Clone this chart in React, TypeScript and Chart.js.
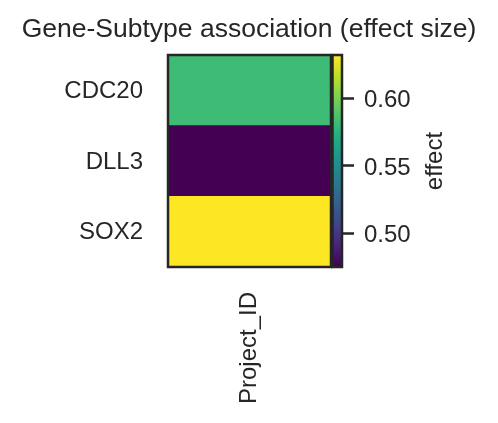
import React, { useEffect, useRef } from "react";
import { Chart, registerables } from "chart.js";

Chart.register(...registerables);

// Heatmap content
const genes = ["CDC20", "DLL3", "SOX2"];
const columns = ["Project_ID"];
const effect = [0.582, 0.475, 0.632];

// Colorbar
const colorbarTicks = [0.5, 0.55, 0.6];
const colorbarLabel = "effect";
const titleText = "Gene-Subtype association (effect size)";

const INK = "#262626";
const FONT = '"Liberation Sans", Arial, Helvetica, sans-serif';

const VIRIDIS = [
  "#440154", "#482475", "#414487", "#355f8d", "#2a788e", "#21918c",
  "#22a884", "#44bf70", "#7ad151", "#bddf26", "#fde725",
];

function hexToRgb(h: string): number[] {
  return [1, 3, 5].map((i) => parseInt(h.slice(i, i + 2), 16));
}

function viridis(t: number): string {
  const c = Math.min(1, Math.max(0, t)) * (VIRIDIS.length - 1);
  const i = Math.min(VIRIDIS.length - 2, Math.floor(c));
  const f = c - i;
  const a = hexToRgb(VIRIDIS[i]);
  const b = hexToRgb(VIRIDIS[i + 1]);
  const m = a.map((v, k) => Math.round(v + (b[k] - v) * f));
  return `rgb(${m[0]}, ${m[1]}, ${m[2]})`;
}

const vmin = Math.min(...effect);
const vmax = Math.max(...effect);

// Dark outline around the plotting area
const framePlugin = {
  id: "frame",
  afterDatasetsDraw(chart: any) {
    const { ctx, chartArea } = chart;
    ctx.save();
    ctx.strokeStyle = INK;
    ctx.lineWidth = 2.5;
    ctx.strokeRect(
      chartArea.left,
      chartArea.top,
      chartArea.right - chartArea.left,
      chartArea.bottom - chartArea.top
    );
    ctx.restore();
  },
};

// Colorbar caption, reading bottom to top
const captionPlugin = {
  id: "caption",
  afterDraw(chart: any) {
    const { ctx, chartArea } = chart;
    ctx.save();
    ctx.translate(442, (chartArea.top + chartArea.bottom) / 2);
    ctx.rotate(-Math.PI / 2);
    ctx.fillStyle = INK;
    ctx.font = `24px ${FONT}`;
    ctx.textAlign = "center";
    ctx.textBaseline = "alphabetic";
    ctx.fillText(colorbarLabel, 0, 0);
    ctx.restore();
  },
};

export default function App() {
  const heatRef = useRef<HTMLCanvasElement>(null);
  const barRef = useRef<HTMLCanvasElement>(null);

  useEffect(() => {
    const tickFont = { family: FONT, size: 24 };

    const heat = new Chart(heatRef.current!, {
      type: "bar",
      data: {
        labels: genes,
        datasets: [
          {
            data: genes.map(() => [-0.5, columns.length - 0.5]),
            backgroundColor: effect.map((v) => viridis((v - vmin) / (vmax - vmin))),
            borderWidth: 0,
            barPercentage: 1,
            categoryPercentage: 1,
          } as any,
        ],
      },
      options: {
        indexAxis: "y",
        responsive: false,
        animation: false,
        layout: { padding: 0 },
        plugins: {
          legend: { display: false },
          tooltip: { enabled: false },
          title: {
            display: true,
            text: titleText,
            color: INK,
            font: { family: FONT, size: 26.5, weight: "normal" },
            padding: { top: 13.4, bottom: 9.8 },
          },
        },
        scales: {
          x: {
            type: "linear",
            min: -0.5,
            max: columns.length - 0.5,
            afterBuildTicks: (s: any) => {
              s.ticks = columns.map((_, i) => ({ value: i }));
            },
            afterFit: (s: any) => {
              s.height = 156;
            },
            ticks: {
              callback: (_v: any, i: number) => columns[i],
              minRotation: 90,
              maxRotation: 90,
              padding: 25,
              color: INK,
              font: tickFont,
            },
            grid: { display: false, drawTicks: false },
            border: { display: false },
          },
          y: {
            afterFit: (s: any) => {
              s.width = 168;
            },
            ticks: {
              // blank leading line nudges each name slightly below the row centre
              callback: (_v: any, i: number) => ["", genes[i]],
              padding: 25,
              color: INK,
              font: { ...tickFont, lineHeight: "2px" },
            },
            grid: { display: false, drawTicks: false },
            border: { display: false },
          },
          // empty strip on the right, where the colorbar sits
          side: {
            type: "linear",
            position: "right",
            afterFit: (s: any) => {
              s.width = 167;
            },
            ticks: { display: false },
            grid: { display: false, drawTicks: false },
            border: { display: false },
          },
        },
      } as any,
      plugins: [framePlugin],
    });

    const bar = new Chart(barRef.current!, {
      type: "bar",
      data: {
        labels: [colorbarLabel],
        datasets: [
          {
            data: [[vmin, vmax]],
            backgroundColor: (c: any) => {
              const chart = c.chart;
              if (!chart.chartArea) return VIRIDIS[0];
              const ys = chart.scales.y;
              const g = chart.ctx.createLinearGradient(
                0,
                ys.getPixelForValue(vmin),
                0,
                ys.getPixelForValue(vmax)
              );
              VIRIDIS.forEach((col, i) => g.addColorStop(i / (VIRIDIS.length - 1), col));
              return g;
            },
            borderWidth: 0,
            barPercentage: 1,
            categoryPercentage: 1,
          } as any,
        ],
      },
      options: {
        responsive: false,
        animation: false,
        layout: { padding: { left: 332.5, right: 0, top: 55, bottom: 156 } },
        plugins: {
          legend: { display: false },
          tooltip: { enabled: false },
        },
        scales: {
          x: { display: false },
          y: {
            position: "right",
            min: vmin,
            max: vmax,
            afterBuildTicks: (s: any) => {
              s.ticks = colorbarTicks.map((v) => ({ value: v }));
            },
            afterFit: (s: any) => {
              s.width = 156;
            },
            ticks: {
              callback: (v: any) => ["", Number(v).toFixed(2)],
              padding: 10,
              color: INK,
              font: { ...tickFont, lineHeight: "5px" },
            },
            grid: {
              drawOnChartArea: false,
              tickLength: 12,
              tickWidth: 2.5,
              tickColor: INK,
            },
            border: { display: false },
          },
        },
      } as any,
      plugins: [framePlugin, captionPlugin],
    });

    return () => {
      heat.destroy();
      bar.destroy();
    };
  }, []);

  return (
    <div style={{ position: "absolute", left: 0, top: 0, width: 498, height: 423, background: "#ffffff" }}>
      <canvas ref={heatRef} width={498} height={423} style={{ position: "absolute", left: 0, top: 0 }} />
      <canvas
        ref={barRef}
        width={498}
        height={423}
        style={{ position: "absolute", left: 0, top: 0, pointerEvents: "none" }}
      />
    </div>
  );
}
